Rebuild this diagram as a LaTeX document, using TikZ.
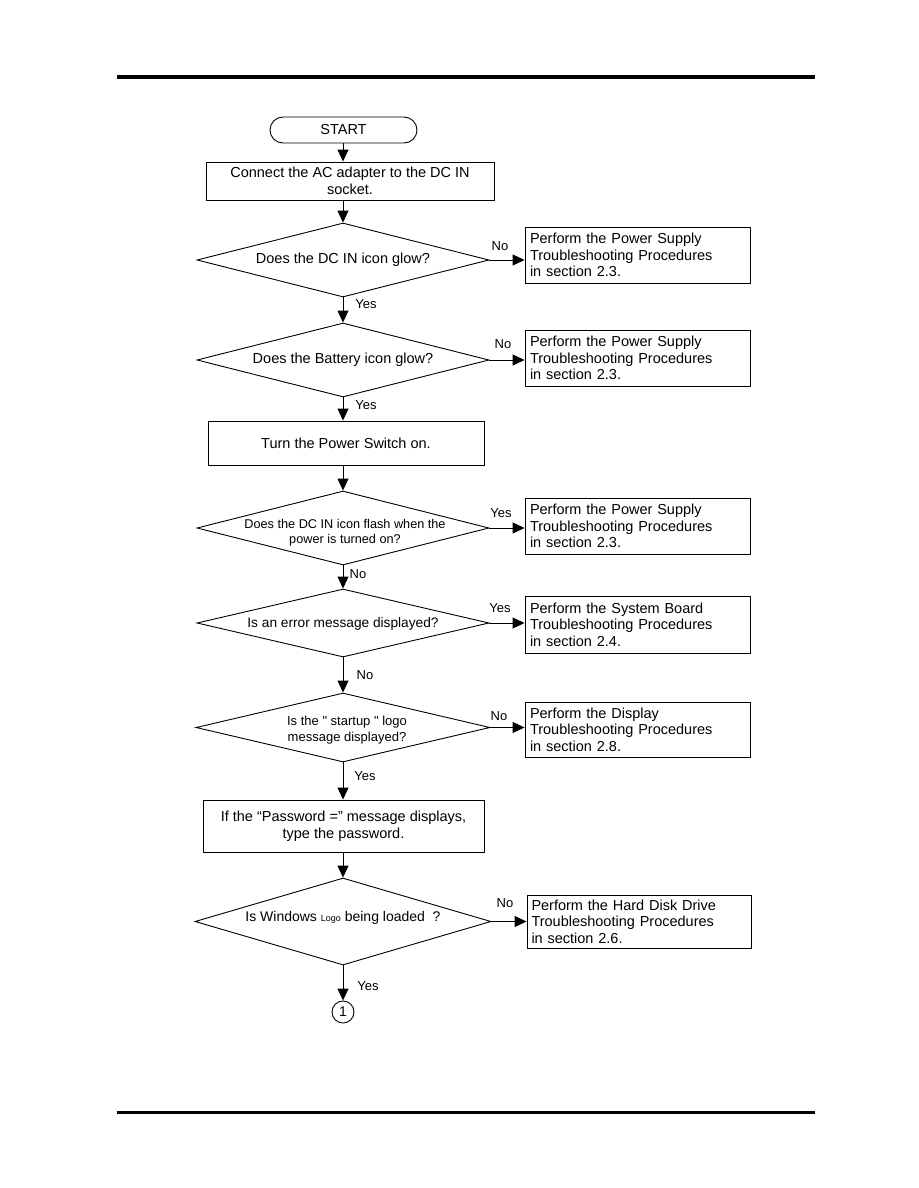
\documentclass[tikz,border=0pt]{standalone}
\usepackage{fontspec}
\setmainfont{Liberation Sans}
\newfontfamily\plainq{Liberation Sans}[Ligatures=TeXOff]
\usetikzlibrary{shapes.geometric,arrows.meta}
\tikzset{
  base/.style={draw, line width=0.9pt, inner sep=0pt},
  term/.style={base, rounded corners=13pt, minimum width=147pt, minimum height=26pt, font=\fontsize{14.5}{16.5}\selectfont},
  proc/.style={base, align=center, font=\fontsize{14.5}{17}\selectfont},
  dia/.style={base, shape=diamond, minimum width=292pt, minimum height=74pt},
  dtext/.style={align=center, font=\fontsize{14.5}{17}\selectfont},
  res/.style={base, minimum width=225pt, minimum height=56pt, align=left, text width=215pt, font=\fontsize{14.5}{16.5}\selectfont},
  lab/.style={font=\fontsize{13}{15}\selectfont, inner sep=0pt},
  arr/.style={line width=0.9pt, -{Triangle[length=12pt,width=11pt]}},
  rule/.style={line width=4pt}
}
\begin{document}
\begin{tikzpicture}[x=1pt,y=-1pt]
\useasboundingbox (0,0) rectangle (918,1188);
\coordinate (t1) at (117,77); \coordinate (t2) at (815,77);
\coordinate (u1) at (117,1112); \coordinate (u2) at (815,1112);
\draw[rule] (t1) -- (t2);
\draw[line width=3pt] (u1) -- (u2);

\node[term] (start) at (343.5,130) {START};
\node[proc, minimum width=288pt, minimum height=38pt] (b1) at (350,181) {Connect the AC adapter to the DC IN\\socket.};
\node[dia] (d1) at (343,260) {};
\node[dtext] (d1t) at (343,260) {Does the DC IN icon glow?};
\node[res] (r1) at (637.5,255) {Perform the Power Supply\\Troubleshooting Procedures\\in section 2.3.};

\node[dia] (d2) at (343,360) {};
\node[dtext] (d2t) at (343,360) {Does the Battery icon glow?};
\node[res] (r2) at (637.5,358) {Perform the Power Supply\\Troubleshooting Procedures\\in section 2.3.};

\node[proc, minimum width=276pt, minimum height=44pt] (b2) at (346,443) {Turn the Power Switch on.};

\node[dia] (d3) at (343,528) {};
\node[dtext, font=\fontsize{12.7}{15}\selectfont] (d3t) at (345,533) {Does the DC IN icon flash when the\\power is turned on?};
\node[res] (r3) at (637.5,526) {Perform the Power Supply\\Troubleshooting Procedures\\in section 2.3.};

\node[dia, minimum height=68pt] (d4) at (343,623) {};
\node[dtext, font=\fontsize{13.7}{15.5}\selectfont] (d4t) at (343,624) {Is an error message displayed?};
\node[res, minimum height=57pt] (r4) at (637.5,624.5) {Perform the System Board\\Troubleshooting Procedures\\in section 2.4.};

\node[dia, minimum height=69pt, minimum width=294pt] (d5) at (343,727.5) {};
\node[dtext, font=\fontsize{13}{15.5}\selectfont\plainq] (d5t) at (347,730) {Is the " startup " logo\\message displayed?};
\node[res, minimum height=55pt] (r5) at (637.5,729.5) {Perform the Display\\Troubleshooting Procedures\\in section 2.8.};

\node[proc, minimum width=281pt, minimum height=52pt] (b3) at (343.5,826) {If the “Password =” message displays,\\type the password.};

\node[dia, minimum height=87pt, minimum width=296pt] (d6) at (343,921.5) {};
\node[dtext, font=\fontsize{14}{16}\selectfont] (d6t) at (343,918) {Is Windows {\fontsize{9}{10}\selectfont Logo} being loaded\ \ ?};
\node[res, minimum width=224pt, minimum height=53pt] (r6) at (639,921.5) {Perform the Hard Disk Drive\\Troubleshooting Procedures\\in section 2.6.};

\node[base, circle, minimum size=22pt, font=\fontsize{14}{16}\selectfont] (c1) at (343,1012) {1};

% connectors
\draw[arr] (start.south -| 343,0) -- (b1.north -| 343,0);
\draw[arr] (b1.south -| 343,0) -- (d1.north);
\draw[arr] (d1.east) -- (d1.east -| r1.west);
\draw[arr] (d1.south) -- (d2.north);
\draw[arr] (d2.east) -- (d2.east -| r2.west);
\draw[arr] (d2.south) -- (b2.north -| d2.south);
\draw[arr] (b2.south -| d3.north) -- (d3.north);
\draw[arr] (d3.east) -- (d3.east -| r3.west);
\draw[arr] (d3.south) -- (d4.north);
\draw[arr] (d4.east) -- (d4.east -| r4.west);
\draw[arr] (d4.south) -- (d5.north);
\draw[arr] (d5.east) -- (d5.east -| r5.west);
\draw[arr] (d5.south) -- (b3.north -| d5.south);
\draw[arr] (b3.south -| d6.north) -- (d6.north);
\draw[arr] (d6.east) -- (d6.east -| r6.west);
\draw[arr] (d6.south) -- (c1.north);

% labels
\node[lab] (l1) at (500,246) {No};
\node[lab] (l2) at (366,304) {Yes};
\node[lab] (l3) at (503,344) {No};
\node[lab] (l4) at (366,405) {Yes};
\node[lab] (l5) at (501,513) {Yes};
\node[lab] (l6) at (358,574) {No};
\node[lab] (l7) at (500,608) {Yes};
\node[lab] (l8) at (365,675) {No};
\node[lab] (l9) at (499,716) {No};
\node[lab] (l10) at (365,776) {Yes};
\node[lab] (l11) at (505,903) {No};
\node[lab] (l12) at (368,986) {Yes};
\end{tikzpicture}
\end{document}
